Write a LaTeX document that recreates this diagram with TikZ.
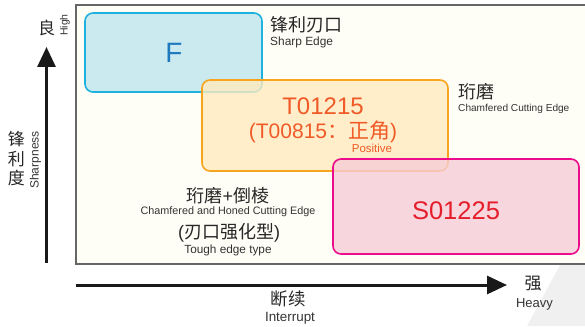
\documentclass[tikz,border=0pt]{standalone}
\usepackage{fontspec}
\setmainfont{Liberation Sans}
\newfontfamily\cjk{Noto Sans CJK SC}
\usetikzlibrary{arrows.meta}
\definecolor{panelbg}{HTML}{FFFEF6}
\definecolor{fblue}{HTML}{1CB1DE}
\definecolor{ffill}{HTML}{BFE5EE}
\definecolor{ftext}{HTML}{1F79BF}
\definecolor{tor}{HTML}{F7A41E}
\definecolor{tfill}{HTML}{FFEBBE}
\definecolor{ttext}{HTML}{F05A28}
\definecolor{spink}{HTML}{EC0C8C}
\definecolor{sfill}{HTML}{F7CDD7}
\definecolor{stext}{HTML}{E41E2B}
\tikzset{
    grade/.style={rounded corners=8pt,line width=1.6pt,fill opacity=0.8,inner sep=0pt},
    cnlabel/.style={font=\cjk\fontsize{18}{18}\selectfont,text=black!85,inner sep=0pt},
    enlabel/.style={font=\fontsize{11}{11}\selectfont,text=black!80,inner sep=0pt},
    axis/.style={line width=3pt,black!90,-{Triangle[length=20pt,width=18pt]}}
}
\begin{document}
\begin{tikzpicture}[x=1pt,y=-1pt]
\useasboundingbox (0,0) rectangle (585,326);
% panel
\draw[fill=panelbg,draw=black!60,line width=1.4pt] (76,5) rectangle (600,264);
\fill[black!6] (560,265)--(585,265)--(585,326)--(527,326)--cycle;
% grade boxes
\node[grade,draw=fblue,fill=ffill,minimum width=177pt,minimum height=79pt] (boxF) at (173.5,52.5) {};
\node[grade,draw=tor,fill=tfill,minimum width=246pt,minimum height=91pt] (boxT) at (325,125.5) {};
\node[grade,draw=spink,fill=sfill,minimum width=246pt,minimum height=95pt] (boxS) at (456,206.5) {};
\node[text=ftext,font=\fontsize{28}{28}\selectfont] (gF) at (174,53) {F};
\node[text=ttext,font=\fontsize{24}{24}\selectfont] (gT) at (323,106) {T01215};
\node[text=ttext,font=\fontsize{21}{21}\selectfont] (gT2) at (323,132) {(T00815{\cjk ：正角})};
\node[text=ttext,font=\fontsize{11.5}{11.5}\selectfont] (gT3) at (372,148) {Positive};
\node[text=stext,font=\fontsize{25.5}{25.5}\selectfont] (gS) at (456,211) {S01225};
% edge types
\node[cnlabel,anchor=west] (sharp) at (270,24.5) {锋利刃口};
\node[enlabel,anchor=west,font=\fontsize{11.9}{11.9}\selectfont] (sharpen) at (270,42) {Sharp Edge};
\node[cnlabel,anchor=west] (hone) at (458,92) {珩磨};
\node[enlabel,anchor=west,font=\fontsize{10.1}{10.1}\selectfont] (honeen) at (458,109) {Chamfered Cutting Edge};
\node[cnlabel] (tough) at (228,196) {珩磨{\rmfamily +}倒棱};
\node[enlabel,font=\fontsize{10.8}{10.8}\selectfont] (toughen) at (228,212) {Chamfered and Honed Cutting Edge};
\node[cnlabel] (tough2) at (229,233) {{\rmfamily (}刃口强化型{\rmfamily )}};
\node[enlabel,font=\fontsize{11.8}{11.8}\selectfont] (tough2en) at (228,250) {Tough edge type};
% axes
\coordinate (yfoot) at (46.5,263);
\coordinate (ytip) at (46.5,47);
\coordinate (xfoot) at (76,285);
\coordinate (xtip) at (507,285);
\draw[axis] (yfoot)--(ytip);
\draw[axis] (xfoot)--(xtip);
\node[cnlabel,font=\cjk\fontsize{17}{17}\selectfont] (good) at (46.5,28) {良};
\node[enlabel,font=\fontsize{10.5}{10.5}\selectfont,rotate=90] (high) at (65,25) {High};
\node[cnlabel,align=center,font=\cjk\fontsize{17}{19.5}\selectfont] (sharpness) at (16.5,159) {锋\\利\\度};
\node[enlabel,font=\fontsize{12}{12}\selectfont,rotate=90] (sharpnessen) at (35.5,160) {Sharpness};
\node[cnlabel,font=\cjk\fontsize{17}{17}\selectfont] (heavy) at (533,284) {强};
\node[enlabel,font=\fontsize{13}{13}\selectfont] (heavyen) at (534.5,304) {Heavy};
\node[cnlabel,font=\cjk\fontsize{17.5}{17.5}\selectfont] (intr) at (288,299) {断续};
\node[enlabel,font=\fontsize{13.4}{13.4}\selectfont] (intren) at (290,318) {Interrupt};
\end{tikzpicture}
\end{document}
